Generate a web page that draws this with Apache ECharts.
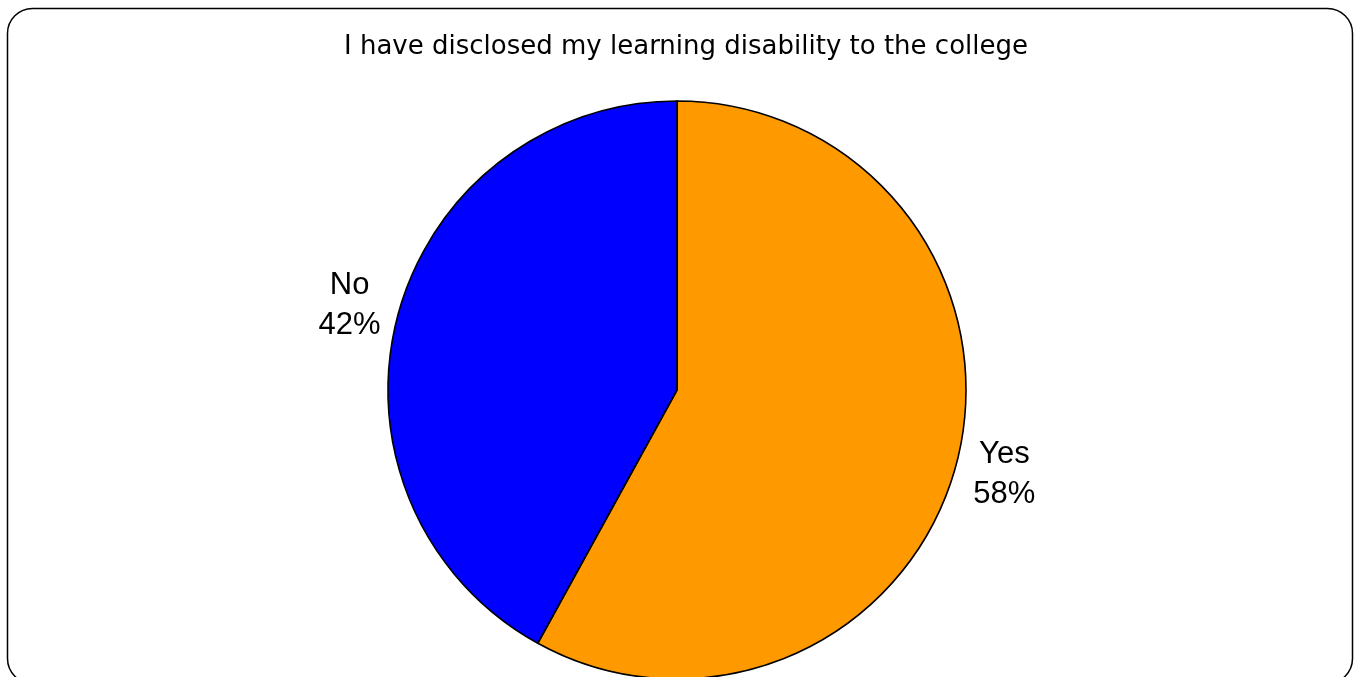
<!DOCTYPE html>
<html>
<head>
<meta charset="utf-8">
<script src="https://cdn.jsdelivr.net/npm/echarts@6/dist/echarts.min.js"></script>
<style>
  html, body { margin: 0; padding: 0; background: #fff; }
  #chart { width: 1355px; height: 677px; }
</style>
</head>
<body>
<div id="chart"></div>
<script>
// Survey answers and their shares (percent)
const categories = ['Yes', 'No'];
const shares = [58, 42];
const sliceColors = ['#FF9900', '#0000FF'];

const chart = echarts.init(document.getElementById('chart'));

const labelFont = "'Liberation Sans', Arial, sans-serif";

chart.setOption({
  animation: false,
  textStyle: { fontFamily: labelFont },
  title: {
    text: 'I have disclosed my learning disability to the college',
    left: 681,
    top: 29,
    textAlign: 'center',
    textStyle: {
      fontFamily: "'DejaVu Sans', sans-serif",
      fontSize: 26,
      fontWeight: 'normal',
      color: '#000'
    }
  },
  graphic: [{
    type: 'rect',
    shape: { x: 7.5, y: 8.5, width: 1345, height: 675, r: 25 },
    style: { fill: 'none', stroke: '#000', lineWidth: 1.5 },
    z: 0
  }],
  series: [{
    // the pie itself
    type: 'pie',
    center: [677, 390],
    radius: 289,
    startAngle: 90,
    clockwise: true,
    data: categories.map((name, i) => ({
      name: name,
      value: shares[i],
      itemStyle: { color: sliceColors[i] }
    })),
    itemStyle: { borderColor: '#000', borderWidth: 1.6 },
    label: { show: false },
    labelLine: { show: false },
    emphasis: { disabled: true }
  }, {
    // invisible ring just outside the pie that carries the centred category labels
    type: 'pie',
    center: [677, 390],
    radius: [309, 361],
    startAngle: 90,
    clockwise: true,
    silent: true,
    data: categories.map((name, i) => ({ name: name, value: shares[i] })),
    itemStyle: { color: 'rgba(255,255,255,0)', borderWidth: 0 },
    label: {
      show: true,
      position: 'inside',
      formatter: p => '{t|' + p.name + '}\n{t|' + p.value + '%}',
      rich: {
        t: {
          fontFamily: labelFont,
          fontSize: 31,
          lineHeight: 40,
          color: '#000',
          align: 'center'
        }
      }
    },
    labelLine: { show: false },
    emphasis: { disabled: true }
  }]
});
</script>
</body>
</html>
